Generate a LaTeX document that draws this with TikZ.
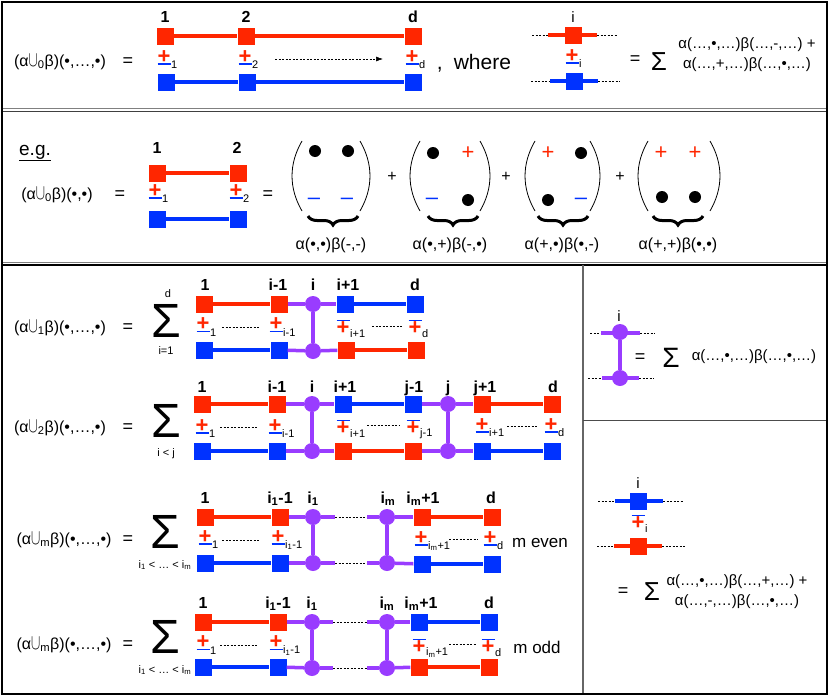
\documentclass[tikz,border=0pt]{standalone}
\usepackage{fontspec}
\usepackage{graphicx}
\setmainfont{Liberation Sans}
\usetikzlibrary{arrows.meta,decorations.pathreplacing}
\definecolor{cred}{RGB}{255,38,0}
\definecolor{cblue}{RGB}{0,50,255}
\definecolor{cpurple}{RGB}{153,60,255}
\newcommand\fs[1]{\fontsize{#1}{#1}\selectfont}
\newcommand\cupc{\scalebox{0.8}[1.25]{$\cup$}}
\tikzset{
 txt/.style={font=\fs{16},inner sep=0},
 eqs/.style={font=\fs{18},inner sep=0},
 lab/.style={font=\bfseries\fs{16},inner sep=0,anchor=base},
 rlab/.style={font=\fs{15},inner sep=0,anchor=base},
 small/.style={font=\fs{11},inner sep=0},
 sig/.style={font=\fs{48},inner sep=0},
 formula/.style={font=\fs{15},inner sep=0},
 rsq/.style={rectangle,fill=cred,minimum size=17pt,inner sep=0},
 bsq/.style={rectangle,fill=cblue,minimum size=17pt,inner sep=0},
 pdot/.style={circle,fill=cpurple,minimum size=16pt,inner sep=0},
 kdot/.style={circle,fill=black,minimum size=12pt,inner sep=0},
 rl/.style={draw=cred,line width=3.5pt},
 bl/.style={draw=cblue,line width=3.5pt},
 pl/.style={draw=cpurple,line width=3.5pt},
 rstub/.style={draw=cred,line width=4.5pt},
 bstub/.style={draw=cblue,line width=4.5pt},
 pstub/.style={draw=cpurple,line width=4.5pt},
 dsh/.style={draw=black,line width=0.6pt,dash pattern=on 2pt off 1.5pt},
 plusn/.style={font=\bfseries\fs{22},text=cred,inner sep=0},
 barl/.style={draw=cblue,line width=1.8pt},
 subn/.style={font=\fs{11},inner sep=0,anchor=west},
 par/.style={draw=black,line width=0.8pt},
 brc/.style={draw=black,line width=3pt,decorate,decoration={brace,mirror,amplitude=9pt}},
 mplus/.style={font=\fs{22},text=cred,inner sep=0},
 mminus/.style={font=\fs{22},text=cblue,inner sep=0},
}
% plus over bar (#1 name, #2 x, #3 y of the plus, #4 index)
\newcommand\PMat[4]{%
 \node[plusn] (#1) at (#2,#3) {+};
 \draw[barl] ({#2-6.5},{#3+7}) -- ({#2+6.5},{#3+7});
 \node[subn] (#1s) at ({#2+7},{#3+8}) {#4};}
% bar over plus
\newcommand\MPat[4]{%
 \node[plusn] (#1) at (#2,#3) {+};
 \draw[barl] ({#2-6.5},{#3-7.5}) -- ({#2+6.5},{#3-7.5});
 \node[subn] (#1s) at ({#2+7},{#3+5.5}) {#4};}
\begin{document}
\begin{tikzpicture}[x=1pt,y=-1pt]
\useasboundingbox (0,0) rectangle (830,696);
\fill[white] (0,0) rectangle (830,696);
% frames
\draw[gray,line width=1pt] (2,108)--(827,108);
\draw[black!75,line width=1pt] (2,111)--(827,111);
\draw[gray,line width=1pt] (2,262)--(827,262);
\draw[black,line width=2.5pt] (2,265)--(827,265);
\draw[black!60,line width=1.2pt] (583,265)--(583,694);
\draw[black!70,line width=1pt] (583,420)--(827,420);
\draw[black,line width=2.5pt] (2,2) rectangle (827,694);

% ---------------- box 1 ----------------
\node[txt] (T1) at (60,62) {(α\cupc\textsubscript{0}β)(•,…,•)};
\node[eqs] (E1) at (128,62) {=};
\node[rsq] (A1) at (165,36) {};
\node[rsq] (A2) at (246,36) {};
\node[rsq] (Ad) at (413,36) {};
\node[bsq] (B1) at (166,82) {};
\node[bsq] (B2) at (247,82) {};
\node[bsq] (Bd) at (413,82) {};
\draw[rl] (A1)--(A2); \draw[rl] (A2)--(Ad);
\draw[bl] (B1)--(B2); \draw[bl] (B2)--(Bd);
\node[lab] (LA1) at (165,23) {1};
\node[lab] (LA2) at (246,23) {2};
\node[lab] (LAd) at (413,23) {d};
\PMat{PA1}{164}{57}{1}
\PMat{PA2}{245}{57}{2}
\PMat{PAd}{412}{57}{d}
\coordinate (AR1) at (275,59); \coordinate (AR2) at (383,59);
\draw[dsh,-{Latex[length=7pt,width=5pt]}] (AR1)--(AR2);
\node[font=\fs{21},inner sep=0,anchor=base] (WH) at (474,69) {,\hspace{11pt}where};
% element i
\coordinate (q1) at (532,35); \coordinate (q2) at (548,35);
\coordinate (q3) at (597,35); \coordinate (q4) at (618,35);
\draw[dsh] (q1)--(q2); \draw[rstub] (q2)--(q3); \draw[dsh] (q3)--(q4);
\node[rsq] (Ri) at (573,35) {};
\coordinate (w1) at (531,81); \coordinate (w2) at (550,81);
\coordinate (w3) at (598,81); \coordinate (w4) at (620,81);
\draw[dsh] (w1)--(w2); \draw[bstub] (w2)--(w3); \draw[dsh] (w3)--(w4);
\node[bsq] (Bi) at (574,81) {};
\node[rlab] (Li) at (573,23) {i};
\PMat{Pi}{572}{56}{i}
\node[eqs] (E1b) at (635,60) {=};
\node[font=\fs{26},inner sep=0] (S1) at (659,62) {Σ};
\node[formula] (F1) at (747,45) {α(…,•,…)β(…,-,…) +};
\node[formula] (F2) at (747,65) {α(…,+,…)β(…,•,…)};

% ---------------- box 2 ----------------
\node[font=\fs{19},inner sep=0] (EG) at (35,153) {\underline{e.g.}};
\node[txt] (T2) at (57,195) {(α\cupc\textsubscript{0}β)(•,•)};
\node[eqs] (E2) at (120,195) {=};
\node[rsq] (C1) at (157,173) {};
\node[rsq] (C2) at (238,173) {};
\node[bsq] (D1) at (157,219) {};
\node[bsq] (D2) at (238,219) {};
\draw[rl] (C1)--(C2); \draw[bl] (D1)--(D2);
\node[lab] (LC1) at (157,153) {1};
\node[lab] (LC2) at (237,153) {2};
\PMat{PC1}{155}{191}{1}
\PMat{PC2}{236}{191}{2}
\node[eqs] (E3) at (268,195) {=};
% parens
\draw[par] (302,141) .. controls (288.7,164) and (288.7,188) .. (302,211);
\draw[par] (360,141) .. controls (373.3,164) and (373.3,188) .. (360,211);
\draw[par] (420,141) .. controls (406.7,164) and (406.7,188) .. (420,211);
\draw[par] (480,141) .. controls (493.3,164) and (493.3,188) .. (480,211);
\draw[par] (535,141) .. controls (521.7,164) and (521.7,188) .. (535,211);
\draw[par] (590,141) .. controls (603.3,164) and (603.3,188) .. (590,211);
\draw[par] (648,141) .. controls (634.7,164) and (634.7,188) .. (648,211);
\draw[par] (710,141) .. controls (723.3,164) and (723.3,188) .. (710,211);
% matrix 1
\node[kdot] (M1a) at (315,151) {};
\node[kdot] (M1b) at (348,151) {};
\node[mminus] (M1c) at (314,201) {–};
\node[mminus] (M1d) at (347,201) {–};
% matrix 2
\node[kdot] (M2a) at (433,153) {};
\node[mplus] (M2b) at (468,153) {+};
\node[mminus] (M2c) at (432,201) {–};
\node[kdot] (M2d) at (468,200) {};
% matrix 3
\node[mplus] (M3a) at (548,153) {+};
\node[kdot] (M3b) at (581,153) {};
\node[kdot] (M3c) at (548,200) {};
\node[mminus] (M3d) at (581,201) {–};
% matrix 4
\node[mplus] (M4a) at (661,153) {+};
\node[mplus] (M4b) at (695,153) {+};
\node[kdot] (M4c) at (662,197) {};
\node[kdot] (M4d) at (695,197) {};
% plus signs
\node[txt] (PL1) at (392,177) {+};
\node[txt] (PL2) at (506,177) {+};
\node[txt] (PL3) at (620,177) {+};
% braces
\coordinate (Ba1) at (308,216); \coordinate (Bb1) at (358,216);
\coordinate (Ba2) at (428,216); \coordinate (Bb2) at (478,216);
\coordinate (Ba3) at (538,216); \coordinate (Bb3) at (588,216);
\coordinate (Ba4) at (653,216); \coordinate (Bb4) at (703,216);
\draw[brc] (Ba1)--(Bb1);
\draw[brc] (Ba2)--(Bb2);
\draw[brc] (Ba3)--(Bb3);
\draw[brc] (Ba4)--(Bb4);
\node[txt] (BL1) at (331,245) {α(•,•)β(-,-)};
\node[txt] (BL2) at (450,245) {α(•,+)β(-,•)};
\node[txt] (BL3) at (562,245) {α(+,•)β(•,-)};
\node[txt] (BL4) at (678,245) {α(+,+)β(•,•)};

% ---------------- row U1 ----------------
\node[txt] (T3) at (60,328) {(α\cupc\textsubscript{1}β)(•,…,•)};
\node[eqs] (E4) at (128,328) {=};
\node[sig] (S3) at (166,321) {Σ};
\node[small] (S3u) at (168,294) {d};
\node[small] (S3l) at (166,351) {i=1};
\node[rsq] (Ua1) at (204,304) {};
\node[rsq] (Ua2) at (279,304) {};
\node[pdot] (Uc) at (313,304) {};
\node[bsq] (Ua3) at (345,304) {};
\node[bsq] (Ua4) at (415,304) {};
\node[bsq] (Ub1) at (204,350) {};
\node[bsq] (Ub2) at (279,350) {};
\node[pdot] (Ucb) at (313,351) {};
\node[rsq] (Ub3) at (346,350) {};
\node[rsq] (Ub4) at (416,350) {};
\draw[rl] (Ua1)--(Ua2); \draw[pl] (Ua2)--(Uc); \draw[pl] (Uc)--(Ua3); \draw[bl] (Ua3)--(Ua4);
\draw[bl] (Ub1)--(Ub2); \draw[pl] (Ub2)--(Ucb); \draw[pl] (Ucb)--(Ub3); \draw[rl] (Ub3)--(Ub4);
\draw[pl] (Uc)--(Ucb);
\node[lab] (LU1) at (205,290) {1};
\node[lab] (LU2) at (278,290) {i-1};
\node[lab] (LU3) at (313,290) {i};
\node[lab] (LU4) at (348,290) {i+1};
\node[lab] (LU5) at (415,290) {d};
\PMat{PU1}{203}{324.5}{1}
\PMat{PU2}{276}{324.5}{i-1}
\coordinate (du1) at (222,327); \coordinate (du2) at (260,327);
\draw[dsh] (du1)--(du2);
\MPat{PU3}{343}{328}{i+1}
\MPat{PU4}{415}{328}{d}
\coordinate (du3) at (372,326); \coordinate (du4) at (403,326);
\draw[dsh] (du3)--(du4);

% ---------------- row U2 ----------------
\node[txt] (T4) at (60,428) {(α\cupc\textsubscript{2}β)(•,…,•)};
\node[eqs] (E5) at (128,428) {=};
\node[sig] (S4) at (166,421) {Σ};
\node[small] (S4l) at (166,454) {i < j};
\node[rsq] (Va1) at (202,404) {};
\node[rsq] (Va2) at (277,404) {};
\node[pdot] (Vc1) at (312,404) {};
\node[bsq] (Va3) at (343,404) {};
\node[bsq] (Va4) at (413,404) {};
\node[pdot] (Vc2) at (448,404) {};
\node[rsq] (Va5) at (482,404) {};
\node[rsq] (Va6) at (552,404) {};
\node[bsq] (Vb1) at (202,451) {};
\node[bsq] (Vb2) at (277,451) {};
\node[pdot] (Vd1) at (312,451) {};
\node[rsq] (Vb3) at (343,451) {};
\node[rsq] (Vb4) at (413,451) {};
\node[pdot] (Vd2) at (448,451) {};
\node[bsq] (Vb5) at (482,451) {};
\node[bsq] (Vb6) at (552,451) {};
\draw[rl] (Va1)--(Va2); \draw[pl] (Va2)--(Vc1); \draw[pl] (Vc1)--(Va3); \draw[bl] (Va3)--(Va4);
\draw[pl] (Va4)--(Vc2); \draw[pl] (Vc2)--(Va5); \draw[rl] (Va5)--(Va6);
\draw[bl] (Vb1)--(Vb2); \draw[pl] (Vb2)--(Vd1); \draw[pl] (Vd1)--(Vb3); \draw[rl] (Vb3)--(Vb4);
\draw[pl] (Vb4)--(Vd2); \draw[pl] (Vd2)--(Vb5); \draw[bl] (Vb5)--(Vb6);
\draw[pl] (Vc1)--(Vd1); \draw[pl] (Vc2)--(Vd2);
\node[lab] (LV1) at (202,392) {1};
\node[lab] (LV2) at (277,392) {i-1};
\node[lab] (LV3) at (312,392) {i};
\node[lab] (LV4) at (345,392) {i+1};
\node[lab] (LV5) at (414,392) {j-1};
\node[lab] (LV6) at (448,392) {j};
\node[lab] (LV7) at (485,392) {j+1};
\node[lab] (LV8) at (553,392) {d};
\PMat{PV1}{202}{426}{1}
\PMat{PV2}{275}{426}{i-1}
\coordinate (dv1) at (220,427); \coordinate (dv2) at (258,427);
\draw[dsh] (dv1)--(dv2);
\MPat{PV3}{343}{428}{i+1}
\MPat{PV4}{413}{428}{j-1}
\coordinate (dv3) at (367,425); \coordinate (dv4) at (400,425);
\draw[dsh] (dv3)--(dv4);
\PMat{PV5}{482}{425}{i+1}
\PMat{PV6}{551}{425}{d}
\coordinate (dv5) at (507,426); \coordinate (dv6) at (538,426);
\draw[dsh] (dv5)--(dv6);

% ---------------- row Um even ----------------
\node[txt] (T5) at (64,540) {(α\cupc\textsubscript{m}β)(•,…,•)};
\node[eqs] (E6) at (128,540) {=};
\node[sig] (S5) at (165,532) {Σ};
\node[small] (S5l) at (165,565) {i\textsubscript{1} < … < i\textsubscript{m}};
\node[rsq] (Wa1) at (205,517) {};
\node[rsq] (Wa2) at (280,517) {};
\node[pdot] (Wc1) at (313,517) {};
\node[pdot] (Wc2) at (387,517) {};
\node[rsq] (Wa3) at (422,517) {};
\node[rsq] (Wa4) at (492,517) {};
\node[bsq] (Wb1) at (205,563) {};
\node[bsq] (Wb2) at (280,563) {};
\node[pdot] (Wd1) at (313,563) {};
\node[pdot] (Wd2) at (387,563) {};
\node[bsq] (Wb3) at (422,564) {};
\node[bsq] (Wb4) at (492,564) {};
\coordinate (we1) at (335,517); \coordinate (we2) at (367,517);
\coordinate (we3) at (335,563); \coordinate (we4) at (367,563);
\draw[rl] (Wa1)--(Wa2); \draw[pl] (Wa2)--(Wc1); \draw[pl] (Wc1)--(we1); \draw[dsh] (we1)--(we2);
\draw[pl] (we2)--(Wc2); \draw[pl] (Wc2)--(Wa3); \draw[rl] (Wa3)--(Wa4);
\draw[bl] (Wb1)--(Wb2); \draw[pl] (Wb2)--(Wd1); \draw[pl] (Wd1)--(we3); \draw[dsh] (we3)--(we4);
\draw[pl] (we4)--(Wd2); \draw[pl] (Wd2)--(Wb3); \draw[bl] (Wb3)--(Wb4);
\draw[pl] (Wc1)--(Wd1); \draw[pl] (Wc2)--(Wd2);
\node[lab] (LW1) at (205,503) {1};
\node[lab] (LW2) at (280,503) {i\textsubscript{1}-1};
\node[lab] (LW3) at (313,503) {i\textsubscript{1}};
\node[lab] (LW4) at (388,503) {i\textsubscript{m}};
\node[lab] (LW5) at (423,503) {i\textsubscript{m}+1};
\node[lab] (LW6) at (491,503) {d};
\PMat{PW1}{205}{537}{1}
\PMat{PW2}{278}{537}{i\textsubscript{1}-1}
\coordinate (dw1) at (222,540); \coordinate (dw2) at (260,540);
\draw[dsh] (dw1)--(dw2);
\PMat{PW3}{421}{538}{i\textsubscript{m}+1}
\PMat{PW4}{490}{538}{d}
\coordinate (dw3) at (449,539); \coordinate (dw4) at (478,539);
\draw[dsh] (dw3)--(dw4);
\node[font=\fs{17},inner sep=0] (ME) at (540,543) {m even};

% ---------------- row Um odd ----------------
\node[txt] (T6) at (64,645) {(α\cupc\textsubscript{m}β)(•,…,•)};
\node[eqs] (E7) at (128,645) {=};
\node[sig] (S6) at (165,637) {Σ};
\node[small] (S6l) at (165,670) {i\textsubscript{1} < … < i\textsubscript{m}};
\node[rsq] (Xa1) at (203,622) {};
\node[rsq] (Xa2) at (278,622) {};
\node[pdot] (Xc1) at (312,622) {};
\node[pdot] (Xc2) at (387,622) {};
\node[bsq] (Xa3) at (419,622) {};
\node[bsq] (Xa4) at (489,622) {};
\node[bsq] (Xb1) at (203,667) {};
\node[bsq] (Xb2) at (278,667) {};
\node[pdot] (Xd1) at (312,668) {};
\node[pdot] (Xd2) at (387,668) {};
\node[rsq] (Xb3) at (419,667) {};
\node[rsq] (Xb4) at (489,667) {};
\coordinate (xe1) at (333,622); \coordinate (xe2) at (367,622);
\coordinate (xe3) at (333,668); \coordinate (xe4) at (367,668);
\draw[rl] (Xa1)--(Xa2); \draw[pl] (Xa2)--(Xc1); \draw[pl] (Xc1)--(xe1); \draw[dsh] (xe1)--(xe2);
\draw[pl] (xe2)--(Xc2); \draw[pl] (Xc2)--(Xa3); \draw[bl] (Xa3)--(Xa4);
\draw[bl] (Xb1)--(Xb2); \draw[pl] (Xb2)--(Xd1); \draw[pl] (Xd1)--(xe3); \draw[dsh] (xe3)--(xe4);
\draw[pl] (xe4)--(Xd2); \draw[pl] (Xd2)--(Xb3); \draw[rl] (Xb3)--(Xb4);
\draw[pl] (Xc1)--(Xd1); \draw[pl] (Xc2)--(Xd2);
\node[lab] (LX1) at (203,608) {1};
\node[lab] (LX2) at (278,608) {i\textsubscript{1}-1};
\node[lab] (LX3) at (312,608) {i\textsubscript{1}};
\node[lab] (LX4) at (387,608) {i\textsubscript{m}};
\node[lab] (LX5) at (421,608) {i\textsubscript{m}+1};
\node[lab] (LX6) at (489,608) {d};
\PMat{PX1}{203}{642.5}{1}
\PMat{PX2}{276}{642.5}{i\textsubscript{1}-1}
\coordinate (dx1) at (220,645); \coordinate (dx2) at (258,645);
\draw[dsh] (dx1)--(dx2);
\MPat{PX3}{419}{647}{i\textsubscript{m}+1}
\MPat{PX4}{488}{647}{d}
\coordinate (dx3) at (449,644); \coordinate (dx4) at (477,644);
\draw[dsh] (dx3)--(dx4);
\node[font=\fs{17},inner sep=0] (MO) at (537,647) {m odd};

% ---------------- right panel 1 ----------------
\coordinate (y1) at (590,333); \coordinate (y2) at (601,333);
\coordinate (y3) at (640,333); \coordinate (y4) at (655,333);
\draw[dsh] (y1)--(y2); \draw[pstub] (y2)--(y3); \draw[dsh] (y3)--(y4);
\coordinate (y5) at (588,378); \coordinate (y6) at (602,378);
\coordinate (y7) at (639,378); \coordinate (y8) at (654,378);
\draw[dsh] (y5)--(y6); \draw[pstub] (y6)--(y7); \draw[dsh] (y7)--(y8);
\node[pdot] (Yc1) at (620,332) {};
\node[pdot] (Yc2) at (620,378) {};
\draw[pl] (Yc1)--(Yc2);
\node[rlab] (LY) at (619,321) {i};
\node[eqs] (E8) at (640,358) {=};
\node[font=\fs{28},inner sep=0] (S7) at (671,358) {Σ};
\node[formula] (F3) at (754,357) {α(…,•,…)β(…,•,…)};

% ---------------- right panel 2 ----------------
\coordinate (z1) at (598,501); \coordinate (z2) at (615,501);
\coordinate (z3) at (663,501); \coordinate (z4) at (684,501);
\draw[dsh] (z1)--(z2); \draw[bstub] (z2)--(z3); \draw[dsh] (z3)--(z4);
\node[bsq] (Zb) at (638,501) {};
\coordinate (z5) at (597,546); \coordinate (z6) at (614,546);
\coordinate (z7) at (662,546); \coordinate (z8) at (686,546);
\draw[dsh] (z5)--(z6); \draw[rstub] (z6)--(z7); \draw[dsh] (z7)--(z8);
\node[rsq] (Zr) at (638,546) {};
\node[rlab] (LZ) at (638,488) {i};
\MPat{PZ}{638}{523}{i}
\node[eqs] (E9) at (623,592) {=};
\node[font=\fs{26},inner sep=0] (S8) at (652,592) {Σ};
\node[formula] (F4) at (737,582) {α(…,•,…)β(…,+,…) +};
\node[formula] (F5) at (737,602) {α(…,-,…)β(…,•,…)};
\end{tikzpicture}
\end{document}
